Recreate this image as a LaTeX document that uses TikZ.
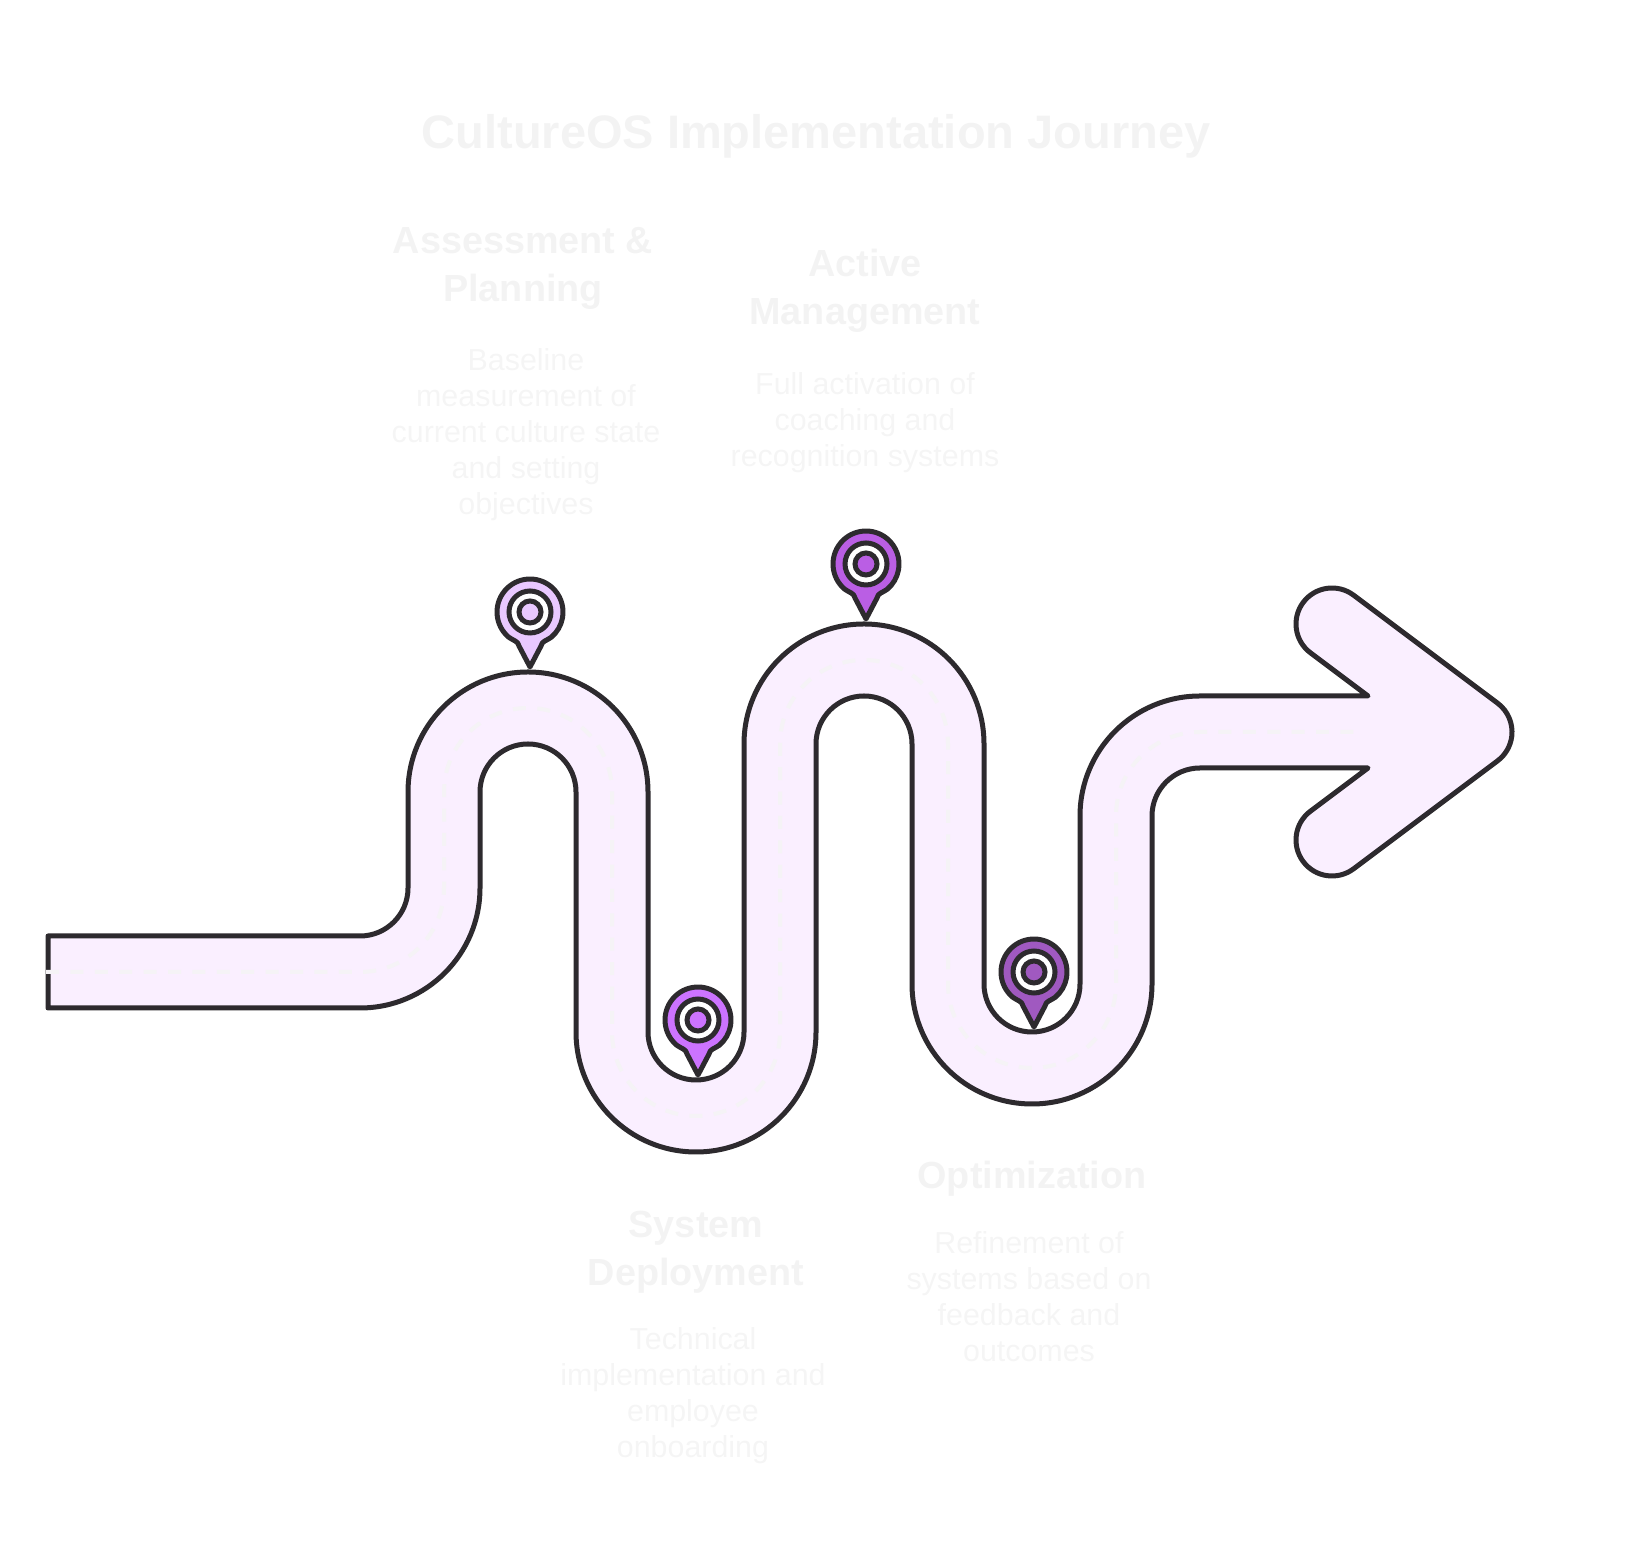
\documentclass[tikz,border=0pt]{standalone}
\usepackage{fontspec}
\setmainfont{Liberation Sans}
\definecolor{bandfill}{HTML}{FAEFFF}
\definecolor{inkline}{HTML}{2D2A2E}
\definecolor{dashgrey}{HTML}{F5F3F6}
\definecolor{faintbold}{HTML}{F3F3F3}
\definecolor{faintbody}{HTML}{F5F5F5}
\definecolor{pinone}{HTML}{E9C8FF}
\definecolor{pintwo}{HTML}{CC73FF}
\definecolor{pinthree}{HTML}{BA5EE4}
\definecolor{pinfour}{HTML}{A059C0}
\tikzset{
  titlelabel/.style={text=faintbold,font=\fontsize{47}{56}\selectfont\bfseries,inner sep=0pt},
  headlabel/.style={text=faintbold,align=center,font=\fontsize{37.8}{48}\selectfont\bfseries,inner sep=0pt},
  bodylabel/.style={text=faintbody,align=center,font=\fontsize{30.4}{36}\selectfont,inner sep=0pt}
}
\begin{document}
\begin{tikzpicture}[x=1pt,y=1pt,line width=5pt,draw=inkline]
\useasboundingbox(0,0)rectangle(1632,1560);
%road outline
\draw[fill=bandfill,line join=round](48,624)--(360,624)arc[start angle=270,end angle=360,radius=48pt]
--(408,768)arc[start angle=180,end angle=0,radius=120pt]
--(648,528)arc[start angle=180,end angle=360,radius=48pt]
--(744,816)arc[start angle=180,end angle=0,radius=120pt]
--(984,576)arc[start angle=180,end angle=360,radius=48pt]
--(1080,744)arc[start angle=180,end angle=90,radius=120pt]
--(1368,864)--(1310.4,907.2)arc[start angle=233.13,end angle=53.13,radius=36pt]
--(1497.6,856.8)arc[start angle=53.13,end angle=-53.13,radius=36pt]
--(1353.6,691.2)arc[start angle=-53.13,end angle=-233.13,radius=36pt]
--(1368,792)--(1200,792)arc[start angle=90,end angle=180,radius=48pt]
--(1152,576)arc[start angle=0,end angle=-180,radius=120pt]
--(912,816)arc[start angle=0,end angle=180,radius=48pt]
--(816,528)arc[start angle=0,end angle=-180,radius=120pt]
--(576,768)arc[start angle=0,end angle=180,radius=48pt]
--(480,672)arc[start angle=0,end angle=-90,radius=120pt]
--(48,552)--cycle;
%centre dashes
\draw[dashgrey,line width=4pt,dash pattern=on 13pt off 11.4pt](46,588)--(360,588)arc[start angle=270,end angle=360,radius=84pt]
--(444,768)arc[start angle=180,end angle=0,radius=84pt]
--(612,528)arc[start angle=180,end angle=360,radius=84pt]
--(780,816)arc[start angle=180,end angle=0,radius=84pt]
--(948,576)arc[start angle=180,end angle=360,radius=84pt]
--(1116,744)arc[start angle=180,end angle=90,radius=84pt]
--(1358,828);
%pins
\foreach \x/\y/\c in {530/948/pinone,698/540/pintwo,866/996/pinthree,1034/588/pinfour}
{
\begin{scope}[shift={(\x,\y)}]
\draw[fill=\c,line join=round](-21.2,-25.3)arc[start angle=230,end angle=-50,radius=33pt]
..controls(16,-29)and(12,-29)..(11,-34)--(0,-55)--(-11,-34)
..controls(-12,-29)and(-16,-29)..(-21.2,-25.3)--cycle;
\draw[fill=white](0,0)circle[radius=21pt];
\draw[fill=\c](0,0)circle[radius=11pt];
\end{scope}
}
%labels
\node[titlelabel](journey) at (816,1424){CultureOS Implementation Journey};
\node[headlabel](assesshead) at (523,1292){Assessment \&\\Planning};
\node[bodylabel](assessbody) at (526,1125){Baseline\\measurement of\\current culture state\\and setting\\objectives};
\node[headlabel](activehead) at (865,1269){Active\\Management};
\node[bodylabel](activebody) at (865,1137){Full activation of\\coaching and\\recognition systems};
\node[headlabel](systemhead) at (696,308){System\\Deployment};
\node[bodylabel](systembody) at (693,164){Technical\\implementation and\\employee\\onboarding};
\node[headlabel](optimhead) at (1032,381){Optimization};
\node[bodylabel](optimbody) at (1029,263){Refinement of\\systems based on\\feedback and\\outcomes};
\end{tikzpicture}
\end{document}
